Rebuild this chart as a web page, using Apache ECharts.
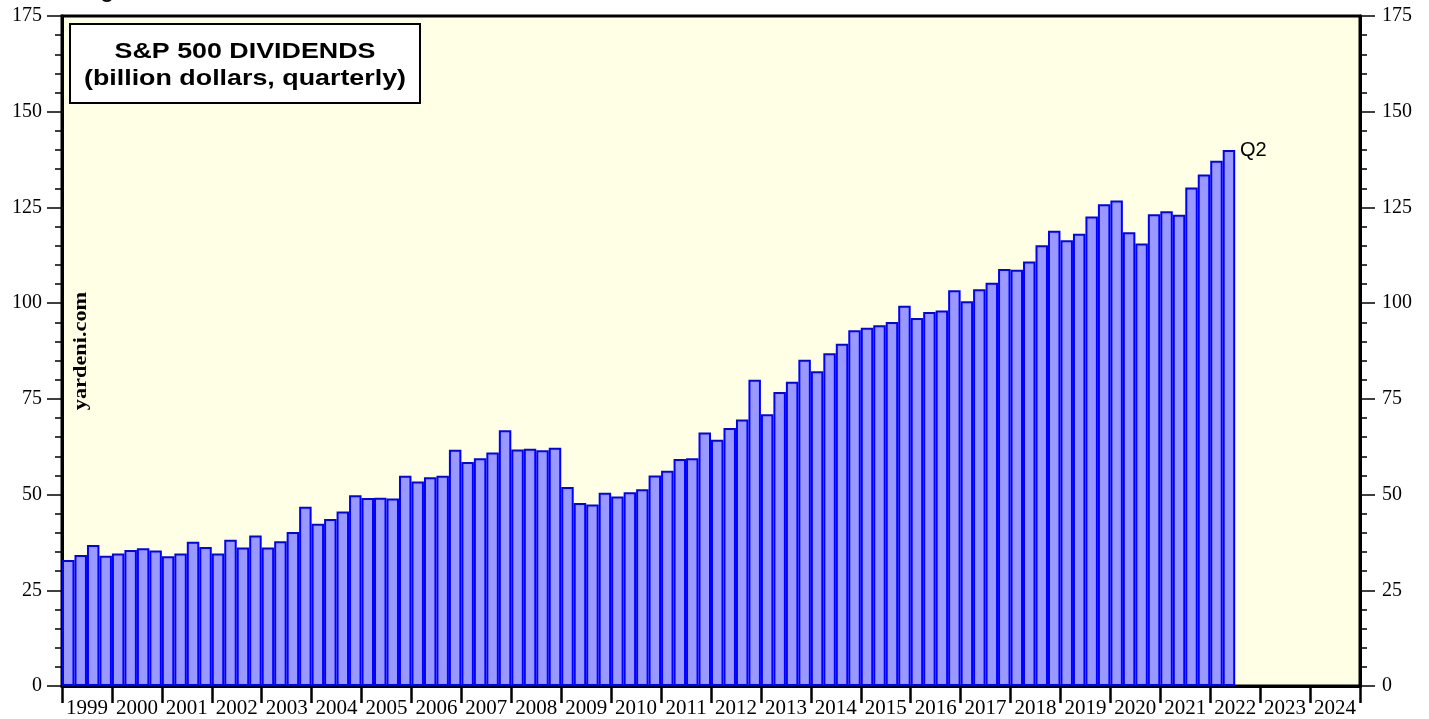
<!DOCTYPE html>
<html>
<head>
<meta charset="utf-8">
<title>S&P 500 Dividends</title>
<script src="https://cdn.jsdelivr.net/npm/echarts@6/dist/echarts.min.js"></script>
<style>
html,body{margin:0;padding:0;background:#fff;}
#chart{width:1429px;height:719px;}
</style>
</head>
<body>
<div id="chart"></div>
<script>
// year labels on the x axis (bars are quarterly, 4 per year)
var years = ['1999','2000','2001','2002','2003','2004','2005','2006','2007','2008','2009','2010','2011','2012',
             '2013','2014','2015','2016','2017','2018','2019','2020','2021','2022','2023','2024'];
var quarters = ['Q1','Q2','Q3','Q4'];
// y axis ticks
var yMin = 0, yMax = 175, yStep = 25;
// S&P 500 dividends, billion dollars, 1999 Q1 .. 2022 Q2
var dividends = [
    32.9, 34.2, 36.8, 34.0,   // 1999
    34.6, 35.5, 36.0, 35.4,   // 2000
    33.9, 34.6, 37.7, 36.3,   // 2001
    34.6, 38.2, 36.2, 39.3,   // 2002
    36.2, 37.8, 40.2, 46.8,   // 2003
    42.4, 43.6, 45.6, 49.8,   // 2004
    49.1, 49.2, 49.0, 54.9,   // 2005
    53.4, 54.5, 54.9, 61.7,   // 2006
    58.5, 59.5, 61.0, 66.8,   // 2007
    61.8, 62.0, 61.6, 62.2,   // 2008
    52.0, 47.8, 47.4, 50.5,   // 2009
    49.5, 50.6, 51.4, 55.0,   // 2010
    56.2, 59.3, 59.5, 66.2,   // 2011
    64.3, 67.4, 69.6, 80.0,   // 2012
    71.0, 76.8, 79.5, 85.2,   // 2013
    82.2, 86.9, 89.4, 92.9,   // 2014
    93.6, 94.2, 95.1, 99.3,   // 2015
    96.1, 97.7, 98.1, 103.4,  // 2016
    100.5, 103.6, 105.3, 108.9, // 2017
    108.7, 110.9, 115.1, 118.9, // 2018
    116.4, 118.1, 122.6, 125.8, // 2019
    126.8, 118.5, 115.6, 123.2, // 2020
    124.0, 123.1, 130.2, 133.6, // 2021
    137.2, 140.0              // 2022
];
var lastLabel = 'Q2';

// quarter categories for the bar axis
var categories = [];
years.forEach(function (y) {
    quarters.forEach(function (q) { categories.push(y + ' ' + q); });
});
var lastIdx = dividends.length - 1;

var serif = '"Liberation Serif", "Times New Roman", serif';
var sans = '"Liberation Sans", Arial, sans-serif';

var myChart = echarts.init(document.getElementById('chart'));
var yAxisCommon = {
    type: 'value',
    min: yMin,
    max: yMax,
    interval: yStep,
    splitLine: { show: false },
    axisLine: { show: true, lineStyle: { color: '#000', width: 3 } },
    axisTick: { show: true, length: 15, lineStyle: { color: '#000', width: 1.5 } },
    minorTick: { show: true, splitNumber: 5, length: 7, lineStyle: { color: '#000', width: 1.5 } },
    axisLabel: { color: '#000', fontFamily: serif, fontSize: 20 }
};

var option = {
    animation: false,
    backgroundColor: '#fff',
    grid: {
        left: 62, right: 69, top: 16, bottom: 31,
        show: true,
        backgroundColor: '#ffffe5',
        borderColor: '#000',
        borderWidth: 3
    },
    xAxis: [
        {   // quarters, carries the bars
            type: 'category',
            data: categories,
            axisLine: { show: false },
            axisTick: { show: false },
            axisLabel: { show: false },
            splitLine: { show: false }
        },
        {   // years, ticks and labels only
            type: 'category',
            data: years,
            position: 'bottom',
            axisLine: { show: true, lineStyle: { color: '#000', width: 3 } },
            axisTick: { show: true, interval: 0, length: 17, lineStyle: { color: '#000', width: 2.5 } },
            axisLabel: { interval: 0, color: '#000', fontFamily: serif, fontSize: 21, margin: 12 },
            splitLine: { show: false }
        }
    ],
    yAxis: [
        Object.assign({}, yAxisCommon, { position: 'left', axisLabel: Object.assign({}, yAxisCommon.axisLabel, { margin: 20 }) }),
        Object.assign({}, yAxisCommon, { position: 'right', axisLabel: Object.assign({}, yAxisCommon.axisLabel, { margin: 22 }) })
    ],
    series: [
        {
            name: 'Dividends',
            type: 'bar',
            xAxisIndex: 0,
            yAxisIndex: 0,
            barCategoryGap: 0,
            data: dividends,
            itemStyle: { color: '#9999ff', borderColor: '#0000ff', borderWidth: 2 },
            markPoint: {
                symbol: 'circle',
                symbolSize: 0,
                silent: true,
                data: [{ coord: [lastIdx, dividends[lastIdx]] }],
                label: {
                    show: true,
                    position: 'right',
                    distance: 11,
                    formatter: lastLabel,
                    color: '#000',
                    fontFamily: sans,
                    fontSize: 20
                }
            }
        }
    ],
    graphic: [
        {
            type: 'group',
            left: 69, top: 23,
            children: [
                { type: 'rect', shape: { x: 0, y: 0, width: 350, height: 79 },
                  style: { fill: '#fff', stroke: '#000', lineWidth: 2 } },
                { type: 'text', x: 175, y: 41, scaleX: 1.22,
                  style: { text: 'S&P 500 DIVIDENDS\n(billion dollars, quarterly)', align: 'center', verticalAlign: 'middle',
                           font: 'bold 22px ' + sans, lineHeight: 27, fill: '#000' } }
            ]
        },
        {
            type: 'text',
            x: 81, y: 351,
            rotation: Math.PI / 2,
            scaleX: 1.24,
            style: { text: 'yardeni.com', align: 'center', verticalAlign: 'middle',
                     font: 'bold 18px ' + serif, fill: '#000' }
        },
        {
            type: 'text',
            left: 82, top: -18,
            style: { text: 'Figure', font: 'bold 21px ' + sans, fill: '#000' }
        }
    ]
};
myChart.setOption(option);
window.addEventListener('resize', function () { myChart.resize(); });
</script>
</body>
</html>
